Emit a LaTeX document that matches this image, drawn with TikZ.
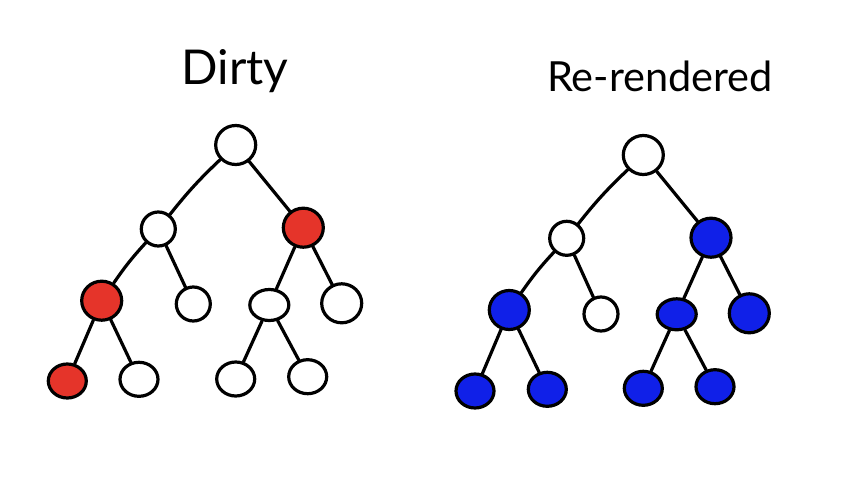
\documentclass[tikz,border=0pt]{standalone}
\usepackage{fontspec}
\setmainfont{Lato}
\usetikzlibrary{shapes.geometric}
\definecolor{dirtyred}{RGB}{229,52,42}
\definecolor{rerblue}{RGB}{16,32,232}
\begin{document}
\begin{tikzpicture}[x=1pt,y=-1pt,
  nd/.style={ellipse,draw=black,line width=3.2pt,fill=white,inner sep=0pt,minimum width=38pt,minimum height=34pt},
  sm/.style={minimum width=34pt,minimum height=34pt},
  big/.style={minimum width=40pt,minimum height=39pt},
  flat/.style={minimum width=39pt,minimum height=31pt},
  rd/.style={fill=dirtyred},
  bl/.style={fill=rerblue},
  edge/.style={line width=3.2pt,line cap=round,black},
  ttl/.style={anchor=base,inner sep=0pt,text=black}]
\useasboundingbox (0,0) rectangle (862,484);
\fill[white] (0,0) rectangle (862,484);
% titles
\node[ttl,font=\fontsize{48}{48}\selectfont] (t1) at (235,85) {Dirty};
\node[ttl,font=\fontsize{41.5}{41.5}\selectfont] (t2) at (660,92) {Re-rendered};
% left tree
\node[nd,big] (a0) at (235.7,145) {};
\node[nd,sm] (a1) at (158.3,229) {};
\node[nd,big,rd] (a2) at (303.3,227.7) {};
\node[nd,big,rd] (a3) at (101.7,300.7) {};
\node[nd,sm] (a4) at (193.3,304) {};
\node[nd,flat] (a5) at (269.3,305) {};
\node[nd,big] (a6) at (341.7,303.3) {};
\node[nd,rd] (a7) at (67.3,381) {};
\node[nd] (a8) at (139,379.3) {};
\node[nd] (a9) at (235.7,379) {};
\node[nd] (a10) at (307.7,376.7) {};
\draw[edge] (a0) to[bend right=4] (a1);
\draw[edge] (a0) -- (a2);
\draw[edge] (a1) to[bend right=4] (a3);
\draw[edge] (a1) -- (a4);
\draw[edge] (a2) -- (a5);
\draw[edge] (a2) -- (a6);
\draw[edge] (a3) -- (a7);
\draw[edge] (a3) -- (a8);
\draw[edge] (a5) -- (a9);
\draw[edge] (a5) -- (a10);
% right tree
\node[nd,big] (b0) at (643.3,155) {};
\node[nd,sm] (b1) at (566.7,238.3) {};
\node[nd,big,bl] (b2) at (711,237.7) {};
\node[nd,big,bl] (b3) at (509.3,310) {};
\node[nd,sm] (b4) at (601,314) {};
\node[nd,flat,bl] (b5) at (676.7,314.3) {};
\node[nd,big,bl] (b6) at (749.3,313.3) {};
\node[nd,bl] (b7) at (475,391) {};
\node[nd,bl] (b8) at (547.3,389.3) {};
\node[nd,bl] (b9) at (643.3,388.3) {};
\node[nd,bl] (b10) at (715,386.7) {};
\draw[edge] (b0) to[bend right=4] (b1);
\draw[edge] (b0) -- (b2);
\draw[edge] (b1) to[bend right=4] (b3);
\draw[edge] (b1) -- (b4);
\draw[edge] (b2) -- (b5);
\draw[edge] (b2) -- (b6);
\draw[edge] (b3) -- (b7);
\draw[edge] (b3) -- (b8);
\draw[edge] (b5) -- (b9);
\draw[edge] (b5) -- (b10);
\end{tikzpicture}
\end{document}
